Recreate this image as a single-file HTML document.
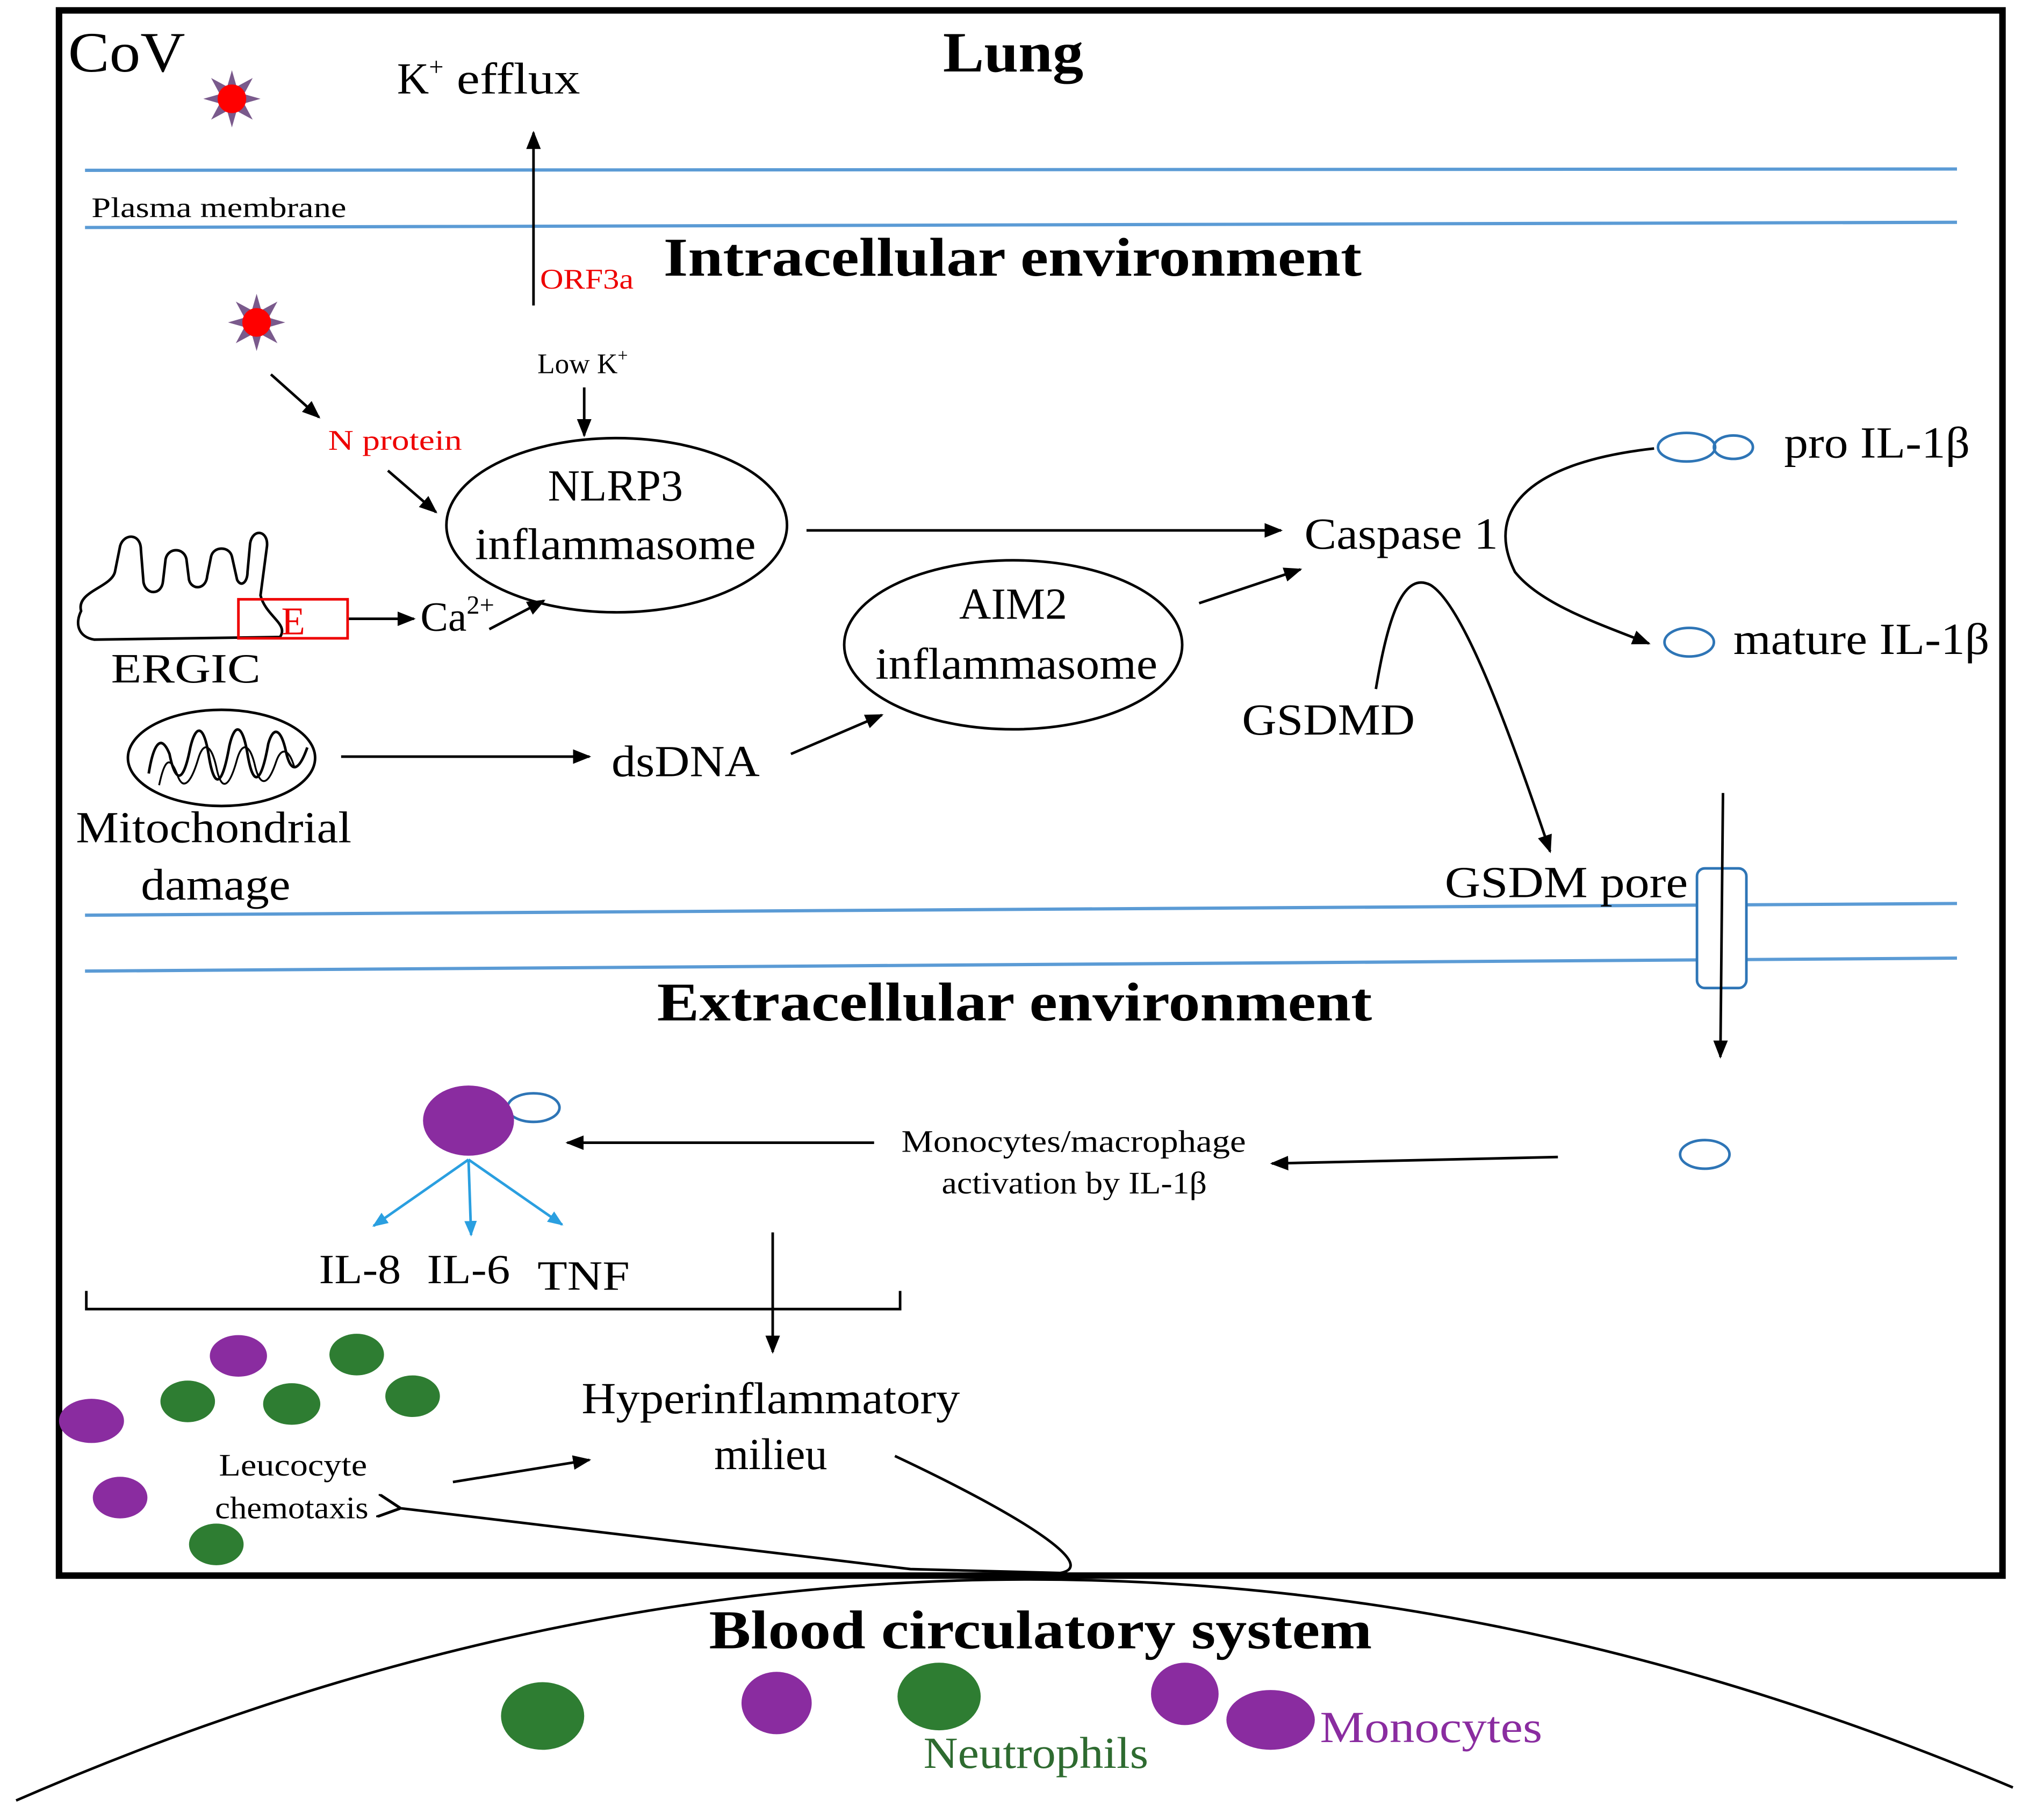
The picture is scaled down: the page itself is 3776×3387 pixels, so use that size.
<!DOCTYPE html>
<html><head><meta charset="utf-8"><style>
html,body{margin:0;padding:0;background:#fff;}
svg{display:block;}
text{font-family:"Liberation Serif",serif;fill:#000;}
.b{font-weight:bold;}
</style></head><body>
<svg width="3776" height="3387" viewBox="0 0 1560 1400" xmlns="http://www.w3.org/2000/svg">
<defs>
<marker id="a" viewBox="0 0 10 10" refX="9" refY="5" markerWidth="7" markerHeight="7" orient="auto-start-reverse"><path d="M0,1 L10,5 L0,9 Z" fill="#000"/></marker>
<marker id="ab" viewBox="0 0 10 10" refX="9" refY="5" markerWidth="6" markerHeight="6" orient="auto"><path d="M0,1 L10,5 L0,9 Z" fill="#2a9fe0"/></marker>
<marker id="ao" viewBox="0 0 10 10" refX="1" refY="5" markerWidth="9" markerHeight="9" orient="auto"><path d="M10,0 L0,5 L10,10" fill="none" stroke="#000" stroke-width="1.2"/></marker>
<g id="virus">
<g fill="#7a5a8c">
<polygon points="0,-22 4,-8 -4,-8"/><polygon points="0,22 4,8 -4,8"/>
<polygon points="-22,0 -8,4 -8,-4"/><polygon points="22,0 8,4 8,-4"/>
<polygon points="-16,-16 -3,-9 -9,-3"/><polygon points="16,16 3,9 9,3"/>
<polygon points="16,-16 9,-3 3,-9"/><polygon points="-16,16 -9,3 -3,9"/>
</g>
<circle r="11" fill="#f00"/>
</g>
</defs>
<rect x="45" y="8" width="1495" height="1204" fill="none" stroke="#000" stroke-width="5"/>
<text x="52" y="55" font-size="44" textLength="90" lengthAdjust="spacingAndGlyphs">CoV</text>
<use href="#virus" x="178" y="76"/>
<text x="305" y="72" font-size="34">K<tspan font-size="20" dy="-14">+</tspan><tspan dy="14" textLength="105" lengthAdjust="spacingAndGlyphs"> efflux</tspan></text>
<text x="725" y="55" font-size="44" class="b" textLength="108" lengthAdjust="spacingAndGlyphs">Lung</text>
<g stroke="#5b9bd5" stroke-width="2.5">
<line x1="65" y1="131" x2="1505" y2="130"/><line x1="65" y1="175" x2="1505" y2="171"/>
<line x1="65" y1="704" x2="1505" y2="695"/><line x1="65" y1="747" x2="1505" y2="737"/>
</g>
<text x="70" y="167" font-size="22" textLength="196" lengthAdjust="spacingAndGlyphs">Plasma membrane</text>
<line x1="410" y1="235" x2="410" y2="102" stroke="#000" stroke-width="2" marker-end="url(#a)"/>
<text x="415" y="222" font-size="22" style="fill:#e00" textLength="72" lengthAdjust="spacingAndGlyphs">ORF3a</text>
<text x="510" y="212" font-size="42" class="b" textLength="537" lengthAdjust="spacingAndGlyphs">Intracellular environment</text>
<use href="#virus" x="197" y="248"/>
<text x="413" y="287" font-size="22">Low K<tspan font-size="14" dy="-9">+</tspan></text>
<line x1="449" y1="298" x2="449" y2="335" stroke="#000" stroke-width="2" marker-end="url(#a)"/>
<line x1="208" y1="288" x2="245" y2="321" stroke="#000" stroke-width="2" marker-end="url(#a)"/>
<text x="252" y="346" font-size="22" style="fill:#e00" textLength="103" lengthAdjust="spacingAndGlyphs">N protein</text>
<line x1="298" y1="362" x2="335" y2="394" stroke="#000" stroke-width="2" marker-end="url(#a)"/>
<ellipse cx="474" cy="404" rx="131" ry="67" fill="none" stroke="#000" stroke-width="2"/>
<text x="473" y="385" font-size="34" text-anchor="middle">NLRP3</text>
<text x="365" y="430" font-size="34" textLength="216" lengthAdjust="spacingAndGlyphs">inflammasome</text>
<line x1="620" y1="408" x2="985" y2="408" stroke="#000" stroke-width="2" marker-end="url(#a)"/>
<text x="1003" y="422" font-size="34" textLength="149" lengthAdjust="spacingAndGlyphs">Caspase 1</text>
<path d="M62,470 C58,455 85,452 88,440 L92,420 C95,410 108,410 108,423 L110,448 C112,458 124,458 125,447 L127,430 C129,421 141,421 143,430 L145,446 C147,454 158,454 159,443 L162,428 C164,420 176,420 178,428 L182,446 C185,452 190,448 190,440 L192,418 C194,406 206,408 205,420 L200,458 C204,474 222,480 215,490 L72,492 C60,490 57,480 62,470 Z" fill="none" stroke="#000" stroke-width="2"/>
<rect x="183" y="461" width="84" height="30" fill="none" stroke="#e00" stroke-width="2"/>
<text x="216" y="488" font-size="30" style="fill:#e00">E</text>
<line x1="268" y1="476" x2="318" y2="476" stroke="#000" stroke-width="2" marker-end="url(#a)"/>
<text x="323" y="485" font-size="32">Ca<tspan font-size="20" dy="-13">2+</tspan></text>
<line x1="376" y1="484" x2="418" y2="462" stroke="#000" stroke-width="2" marker-end="url(#a)"/>
<text x="85" y="525" font-size="32" textLength="115" lengthAdjust="spacingAndGlyphs">ERGIC</text>
<ellipse cx="170" cy="583" rx="72" ry="37" fill="none" stroke="#000" stroke-width="2"/>
<path d="M114,595 C118,570 124,565 130,580 C134,600 140,606 146,575 C150,558 156,556 160,580 C164,606 170,608 176,574 C180,556 186,556 190,580 C194,604 200,606 206,572 C210,558 216,560 220,580 C224,596 230,592 236,575" fill="none" stroke="#000" stroke-width="2"/>
<path d="M122,604 C126,585 130,580 136,596 C140,608 146,604 152,584 C156,570 162,572 166,590 C170,610 176,606 182,584 C186,570 192,572 196,590 C200,606 206,604 212,586 C216,574 222,576 226,590" fill="none" stroke="#000" stroke-width="1.4"/>
<text x="58" y="648" font-size="34" textLength="212" lengthAdjust="spacingAndGlyphs">Mitochondrial</text>
<text x="108" y="692" font-size="34" textLength="115" lengthAdjust="spacingAndGlyphs">damage</text>
<line x1="262" y1="582" x2="453" y2="582" stroke="#000" stroke-width="2" marker-end="url(#a)"/>
<text x="470" y="597" font-size="34" textLength="114" lengthAdjust="spacingAndGlyphs">dsDNA</text>
<line x1="608" y1="580" x2="678" y2="550" stroke="#000" stroke-width="2" marker-end="url(#a)"/>
<ellipse cx="779" cy="496" rx="130" ry="65" fill="none" stroke="#000" stroke-width="2"/>
<text x="779" y="476" font-size="34" text-anchor="middle">AIM2</text>
<text x="673" y="522" font-size="34" textLength="217" lengthAdjust="spacingAndGlyphs">inflammasome</text>
<line x1="922" y1="464" x2="1000" y2="438" stroke="#000" stroke-width="2" marker-end="url(#a)"/>
<text x="955" y="565" font-size="34" textLength="133" lengthAdjust="spacingAndGlyphs">GSDMD</text>
<path d="M1058,530 C1068,470 1080,440 1100,450 C1125,465 1160,560 1192,655" fill="none" stroke="#000" stroke-width="2" marker-end="url(#a)"/>
<g fill="none" stroke="#2e75b6" stroke-width="2">
<ellipse cx="1297" cy="344" rx="22" ry="11"/><ellipse cx="1333" cy="344" rx="15" ry="9"/>
<ellipse cx="1299" cy="494" rx="19" ry="11"/>
<ellipse cx="1311" cy="888" rx="19" ry="11"/>
<ellipse cx="410" cy="852" rx="20" ry="11"/>
</g>
<text x="1372" y="352" font-size="34" textLength="143" lengthAdjust="spacingAndGlyphs">pro IL-1β</text>
<path d="M1272,345 C1180,355 1140,390 1165,440 C1185,465 1230,480 1268,495" fill="none" stroke="#000" stroke-width="2" marker-end="url(#a)"/>
<text x="1333" y="503" font-size="34" textLength="197" lengthAdjust="spacingAndGlyphs">mature IL-1β</text>
<text x="1111" y="690" font-size="34" textLength="187" lengthAdjust="spacingAndGlyphs">GSDM pore</text>
<rect x="1305" y="668" width="38" height="92" rx="6" fill="#fff" stroke="#2e75b6" stroke-width="2"/>
<line x1="1325" y1="610" x2="1323" y2="813" stroke="#000" stroke-width="2" marker-end="url(#a)"/>
<text x="505" y="785" font-size="42" class="b" textLength="550" lengthAdjust="spacingAndGlyphs">Extracellular environment</text>
<line x1="1198" y1="890" x2="978" y2="895" stroke="#000" stroke-width="2" marker-end="url(#a)"/>
<text x="693" y="886" font-size="24" textLength="265" lengthAdjust="spacingAndGlyphs">Monocytes/macrophage</text>
<text x="724" y="918" font-size="24" textLength="204" lengthAdjust="spacingAndGlyphs">activation by IL-1β</text>
<line x1="672" y1="879" x2="436" y2="879" stroke="#000" stroke-width="2" marker-end="url(#a)"/>
<ellipse cx="360" cy="862" rx="35" ry="27" fill="#8a2ca0"/>
<g stroke="#2a9fe0" stroke-width="2">
<line x1="360" y1="892" x2="287" y2="943" marker-end="url(#ab)"/>
<line x1="360" y1="892" x2="362" y2="950" marker-end="url(#ab)"/>
<line x1="360" y1="892" x2="432" y2="942" marker-end="url(#ab)"/>
</g>
<text x="245" y="987" font-size="32" textLength="63" lengthAdjust="spacingAndGlyphs">IL-8</text>
<text x="328" y="987" font-size="32" textLength="64" lengthAdjust="spacingAndGlyphs">IL-6</text>
<text x="413" y="992" font-size="32" textLength="71" lengthAdjust="spacingAndGlyphs">TNF</text>
<path d="M66,993 L66,1007 L692,1007 L692,993" fill="none" stroke="#000" stroke-width="2"/>
<line x1="594" y1="948" x2="594" y2="1040" stroke="#000" stroke-width="2" marker-end="url(#a)"/>
<text x="447" y="1087" font-size="34" textLength="291" lengthAdjust="spacingAndGlyphs">Hyperinflammatory</text>
<text x="549" y="1130" font-size="34" textLength="87" lengthAdjust="spacingAndGlyphs">milieu</text>
<g fill="#8a2ca0">
<ellipse cx="183" cy="1043" rx="22" ry="16"/><ellipse cx="70" cy="1093" rx="25" ry="17"/><ellipse cx="92" cy="1152" rx="21" ry="16"/>
</g>
<g fill="#2e7d32">
<ellipse cx="274" cy="1042" rx="21" ry="16"/><ellipse cx="144" cy="1078" rx="21" ry="16"/><ellipse cx="224" cy="1080" rx="22" ry="16"/><ellipse cx="317" cy="1074" rx="21" ry="16"/><ellipse cx="166" cy="1188" rx="21" ry="16"/>
</g>
<text x="168" y="1135" font-size="24" textLength="114" lengthAdjust="spacingAndGlyphs">Leucocyte</text>
<text x="165" y="1168" font-size="24" textLength="118" lengthAdjust="spacingAndGlyphs">chemotaxis</text>
<line x1="348" y1="1140" x2="453" y2="1123" stroke="#000" stroke-width="2" marker-end="url(#a)"/>
<path d="M688,1120 C790,1168 845,1205 815,1210 L700,1207 L306,1160" fill="none" stroke="#000" stroke-width="2" marker-end="url(#ao)"/>
<path d="M12,1385 Q780,1050 1548,1375" fill="none" stroke="#000" stroke-width="2"/>
<text x="545" y="1268" font-size="42" class="b" textLength="510" lengthAdjust="spacingAndGlyphs">Blood circulatory system</text>
<g fill="#2e7d32"><ellipse cx="417" cy="1320" rx="32" ry="26"/><ellipse cx="722" cy="1305" rx="32" ry="26"/></g>
<g fill="#8a2ca0"><ellipse cx="597" cy="1310" rx="27" ry="24"/><ellipse cx="911" cy="1303" rx="26" ry="24"/><ellipse cx="977" cy="1323" rx="34" ry="23"/></g>
<text x="710" y="1360" font-size="34" style="fill:#2e6b30" textLength="173" lengthAdjust="spacingAndGlyphs">Neutrophils</text>
<text x="1015" y="1340" font-size="34" style="fill:#8a2ca0" textLength="171" lengthAdjust="spacingAndGlyphs">Monocytes</text>
</svg>
</body></html>
